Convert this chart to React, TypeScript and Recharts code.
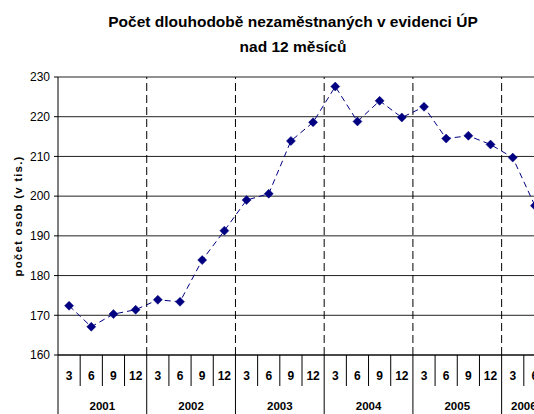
import React from 'react';
import { LineChart, Line, XAxis, YAxis, CartesianGrid, ReferenceLine } from 'recharts';

const YEARS = ['2001', '2002', '2003', '2004', '2005', '2006'];
const QUARTERS_PER_YEAR = [4, 4, 4, 4, 4, 2];
const MONTHS = ['3', '6', '9', '12', '3', '6', '9', '12', '3', '6', '9', '12', '3', '6', '9', '12', '3', '6', '9', '12', '3', '6'];
const VALUES = [172.4, 167.1, 170.3, 171.4, 173.9, 173.4, 183.9, 191.3, 199.0, 200.6, 213.9, 218.6, 227.6, 218.8, 224.0, 219.8, 222.5, 214.5, 215.2, 213.0, 209.7, 197.6];
const Y_TICKS = [160, 170, 180, 190, 200, 210, 220, 230];

const FONT = '"Liberation Sans", Arial, sans-serif';
const CHART_W = 546;
const CHART_H = 414;
const Y_AXIS_W = 58;
const PLOT_W = CHART_W - Y_AXIS_W;
const N = MONTHS.length;
const BAND = PLOT_W / N;

const data = MONTHS.map((m, i) => ({ x: i + 0.5, month: m, value: VALUES[i] }));

// year boundaries and centres in category units
const yearStarts: number[] = [];
QUARTERS_PER_YEAR.reduce((acc, n) => {
  yearStarts.push(acc);
  return acc + n;
}, 0);
const yearEnds = yearStarts.map((s, i) => s + QUARTERS_PER_YEAR[i]);
const yearCentres = yearStarts.map((s, i) => s + QUARTERS_PER_YEAR[i] / 2);
const dividers = yearStarts.slice(1);

const Diamond = (props: any) => {
  const { cx, cy } = props;
  if (cx == null || cy == null) return null;
  const r = 4.5;
  return (
    <polygon
      points={`${cx},${cy - r} ${cx + r},${cy} ${cx},${cy + r} ${cx - r},${cy}`}
      fill="#000080"
      stroke="#000080"
      strokeWidth={0.5}
    />
  );
};

const MonthTick = (props: any) => {
  const { x, y, payload } = props;
  const i = Math.floor(payload.value);
  const right = x + BAND / 2;
  const left = x - BAND / 2;
  const longRight = yearEnds.includes(i + 1);
  return (
    <g>
      {i === 0 && <line x1={left} x2={left} y1={y} y2={y + 59} stroke="#000" />}
      <line x1={right} x2={right} y1={y} y2={y + (longRight ? 59 : 31)} stroke="#000" />
      <text
        x={x}
        y={y + 21}
        textAnchor="middle"
        dominantBaseline="central"
        fontSize={12}
        fontWeight="bold"
        fontFamily={FONT}
        fill="#000"
      >
        {MONTHS[i]}
      </text>
    </g>
  );
};

const YearTick = (props: any) => {
  const { x, y, payload } = props;
  const idx = yearCentres.indexOf(payload.value);
  return (
    <text
      x={x}
      y={y + 20}
      textAnchor="middle"
      dominantBaseline="central"
      fontSize={11.5}
      fontWeight="bold"
      fontFamily={FONT}
      fill="#000"
    >
      {YEARS[idx]}
    </text>
  );
};

const YLabel = (props: any) => {
  const vb = props.viewBox || {};
  const cy = (vb.y ?? 77) + (vb.height ?? 278) / 2;
  const cx = 18;
  return (
    <text
      x={cx}
      y={cy}
      transform={`rotate(-90, ${cx}, ${cy})`}
      textAnchor="middle"
      dominantBaseline="central"
      fontSize={11.5}
      fontWeight="bold"
      fontFamily={FONT}
      letterSpacing={1.2}
      fill="#000"
    >
      počet osob (v tis.)
    </text>
  );
};

export default function App() {
  return (
    <div
      style={{
        position: 'absolute',
        left: 0,
        top: 0,
        width: 534,
        height: 414,
        overflow: 'hidden',
        background: '#fff',
      }}
    >
      <div
        style={{
          position: 'absolute',
          left: 0,
          top: 9,
          width: 586,
          textAlign: 'center',
          fontFamily: FONT,
          fontWeight: 'bold',
          fontSize: 15.5,
          lineHeight: '25px',
          color: '#000',
        }}
      >
        Počet dlouhodobě nezaměstnaných v evidenci ÚP
        <br />
        nad 12 měsíců
      </div>
      <LineChart width={CHART_W} height={CHART_H} data={data} margin={{ top: 77, right: 0, bottom: 0, left: 0 }}>
        <CartesianGrid xAxisId="q" vertical={false} stroke="#222" />
        <XAxis
          xAxisId="q"
          dataKey="x"
          type="number"
          domain={[0, N]}
          ticks={data.map((d) => d.x)}
          interval={0}
          height={31}
          tickSize={0}
          tickMargin={0}
          tick={<MonthTick />}
          axisLine={{ stroke: '#000' }}
          allowDataOverflow
        />
        <XAxis
          xAxisId="y"
          dataKey="x"
          type="number"
          domain={[0, N]}
          ticks={yearCentres}
          interval={0}
          height={28}
          tickSize={0}
          tickMargin={0}
          tick={<YearTick />}
          axisLine={false}
          tickLine={false}
          allowDataOverflow
        />
        <YAxis
          type="number"
          domain={[160, 230]}
          ticks={Y_TICKS}
          interval={0}
          width={Y_AXIS_W}
          tickSize={4}
          tickMargin={4}
          axisLine={{ stroke: '#000' }}
          tickLine={{ stroke: '#000' }}
          tick={{ fontSize: 12, fill: '#000', fontFamily: FONT }}
          label={<YLabel />}
        />
        {dividers.map((d) => (
          <ReferenceLine key={d} xAxisId="q" x={d} stroke="#000" strokeDasharray="8 4" />
        ))}
        <Line
          xAxisId="q"
          dataKey="value"
          type="linear"
          stroke="#000080"
          strokeWidth={1}
          strokeDasharray="6 4"
          dot={<Diamond />}
          activeDot={false}
          isAnimationActive={false}
        />
      </LineChart>
    </div>
  );
}
